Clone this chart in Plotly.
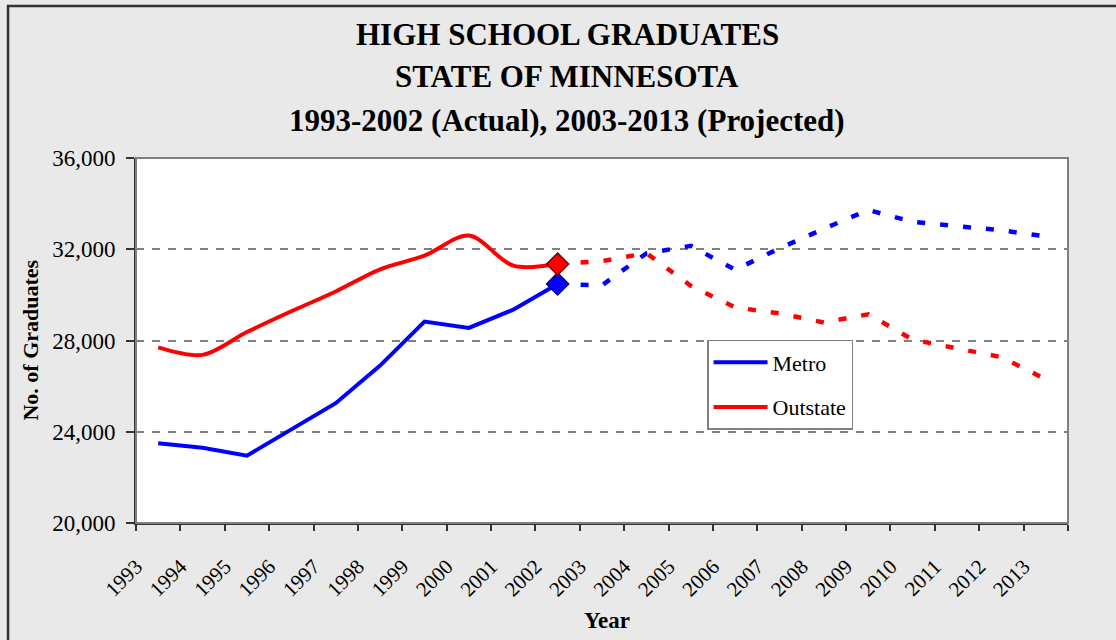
import plotly.graph_objects as go

actual_years = list(range(1993, 2003))
projected_years = list(range(2002, 2014))
all_years = list(range(1993, 2014))

metro_actual = [23500, 23300, 22950, 24100, 25250, 26900, 28830, 28550, 29350, 30480]
outstate_actual = [27700, 27370, 28370, 29280, 30150, 31120, 31720, 32600, 31280, 31350]

metro_projected = [30480, 30420, 31820, 32150, 31100, 32040, 32900, 33720, 33200, 33000, 32830, 32560]
outstate_projected = [31350, 31480, 31830, 30400, 29450, 29190, 28790, 29150, 28040, 27630, 27270, 26300]

y_ticks = [20000, 24000, 28000, 32000, 36000]

title_lines = ["HIGH SCHOOL GRADUATES", "STATE OF MINNESOTA",
               "1993-2002 (Actual), 2003-2013 (Projected)"]

serif = "Liberation Serif"
blue = "#0000FF"
red = "#FF0000"

fig = go.Figure()

# projected (dashed) first so the solid lines and markers sit on top
fig.add_trace(go.Scatter(
    x=projected_years, y=metro_projected, mode="lines",
    line=dict(color=blue, width=4.5, dash="8px,15px"),
    showlegend=False, hoverinfo="x+y"))
fig.add_trace(go.Scatter(
    x=projected_years, y=outstate_projected, mode="lines",
    line=dict(color=red, width=4.5, dash="8px,15px"),
    showlegend=False, hoverinfo="x+y"))

fig.add_trace(go.Scatter(
    x=actual_years, y=metro_actual, mode="lines", name="Metro",
    line=dict(color=blue, width=4), legendgroup="m"))
fig.add_trace(go.Scatter(
    x=actual_years, y=outstate_actual, mode="lines", name="Outstate",
    line=dict(color=red, width=4, shape="spline", smoothing=0.9),
    legendgroup="o"))

# diamonds at the last actual year
fig.add_trace(go.Scatter(
    x=[actual_years[-1]], y=[metro_actual[-1]], mode="markers",
    marker=dict(symbol="diamond", size=17, color=blue,
                line=dict(color="#000080", width=1.5)),
    showlegend=False))
fig.add_trace(go.Scatter(
    x=[actual_years[-1]], y=[outstate_actual[-1]], mode="markers",
    marker=dict(symbol="diamond", size=17, color=red,
                line=dict(color="#800000", width=1.5)),
    showlegend=False))

annotations = []
for txt, yy in zip(title_lines, [1.337, 1.222, 1.104]):
    annotations.append(dict(
        text="<b>%s</b>" % txt, x=0.4625, y=yy, xref="paper", yref="paper",
        showarrow=False, xanchor="center", yanchor="middle",
        font=dict(family=serif, size=31, color="black")))
annotations.append(dict(
    text="<b>No. of Graduates</b>", x=-0.1137, y=0.5, xref="paper", yref="paper",
    showarrow=False, textangle=-90, xanchor="center", yanchor="middle",
    font=dict(family=serif, size=22, color="black")))
annotations.append(dict(
    text="<b>Year</b>", x=0.5054, y=-0.2658, xref="paper", yref="paper",
    showarrow=False, xanchor="center", yanchor="middle",
    font=dict(family=serif, size=23, color="black")))

shapes = [
    # outer chart frame
    dict(type="rect", xref="paper", yref="paper", x0=-0.1373, y0=-0.6,
         x1=1.2, y1=1.4164, line=dict(color="#333333", width=2.5)),
    # plot area frame
    dict(type="rect", xref="paper", yref="paper", x0=0, y0=0, x1=1, y1=1,
         line=dict(color="#808080", width=2)),
]

fig.update_layout(
    width=1116, height=640,
    margin=dict(l=136, r=48, t=158, b=117),
    paper_bgcolor="#E9E9E9", plot_bgcolor="white",
    font=dict(family=serif, color="black"),
    annotations=annotations, shapes=shapes,
    legend=dict(x=0.6127, y=0.5014, xanchor="left", yanchor="top",
                bgcolor="white", bordercolor="#808080", borderwidth=1.5,
                font=dict(family=serif, size=22), tracegroupgap=13,
                traceorder="grouped", itemwidth=54),
)

fig.update_xaxes(
    range=[1992.5, 2013.5], tickmode="array", tickvals=all_years,
    ticktext=[str(y) for y in all_years], tickangle=-45,
    tickfont=dict(family=serif, size=21), ticks="", ticklabelshift=-22,
    ticklabelstandoff=21,
    showgrid=False, zeroline=False, showline=True, linecolor="#333333", linewidth=2,
    minor=dict(ticks="outside", tick0=1992.5, dtick=1, ticklen=6,
               tickcolor="#333333", tickwidth=1.5, showgrid=False),
)
fig.update_yaxes(
    range=[20000, 36000], tickmode="array", tickvals=y_ticks, tickformat=",d",
    tickfont=dict(family=serif, size=23), ticks="outside", ticklen=8,
    tickcolor="#333333", tickwidth=1.5, ticklabelstandoff=6,
    showgrid=True, gridcolor="#808080", gridwidth=1.5, griddash="8px,8px",
    zeroline=False, showline=True, linecolor="#333333", linewidth=2,
)

fig.write_html("out.html", config={"displayModeBar": False},
               post_script="document.body.style.margin='0px';")
